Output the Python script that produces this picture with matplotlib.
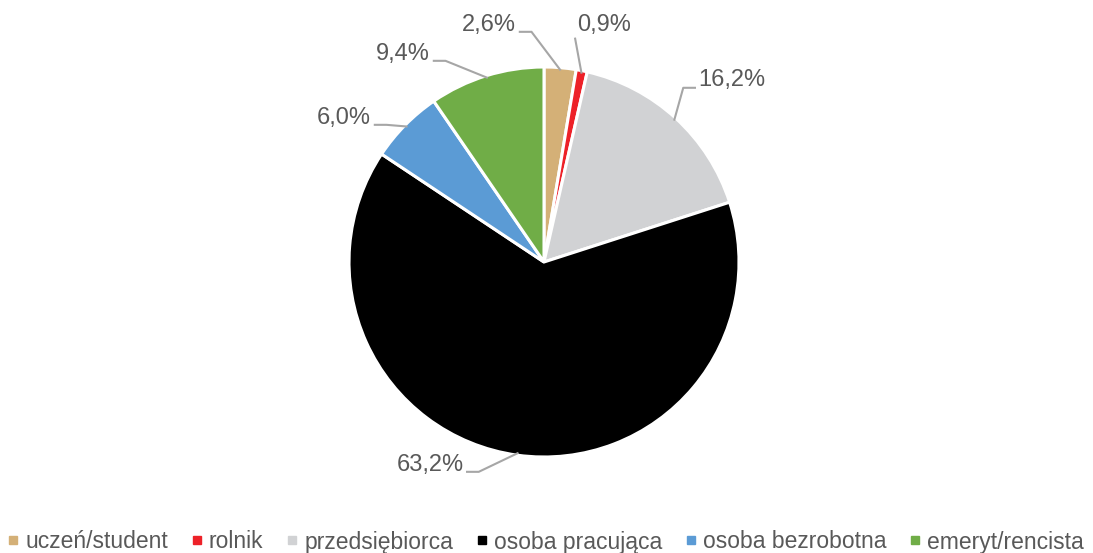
import matplotlib
matplotlib.use("Agg")
import matplotlib.pyplot as plt
from matplotlib.lines import Line2D
import numpy as np

categories = ["uczeń/student", "rolnik", "przedsiębiorca", "osoba pracująca",
              "osoba bezrobotna", "emeryt/rencista"]
values = [2.6, 0.9, 16.2, 63.2, 6.0, 9.4]
labels = ["2,6%", "0,9%", "16,2%", "63,2%", "6,0%", "9,4%"]
colors = ["#D4B077", "#ED2128", "#D1D2D4", "#000000", "#5B9BD5", "#70AD47"]

W, H = 1093, 553
CX, CY, R = 544, 262, 195

fig = plt.figure(figsize=(W / 100, H / 100), dpi=100)
ax = fig.add_axes([0, 0, 1, 1])

FONT = "Liberation Sans"
TXT = "#595959"
LINE = "#A6A6A6"

wedges, _ = ax.pie(values, colors=colors, startangle=90, counterclock=False,
                   radius=1.0, center=(0, 0),
                   wedgeprops=dict(edgecolor="white", linewidth=2.2))
ax.set_xlim((0 - CX) / R, (W - CX) / R)
ax.set_ylim(-(H - CY) / R, CY / R)
ax.set_aspect("equal")
ax.axis("off")

def px(x, y):
    return (x - CX) / R, (CY - y) / R

# label layout (pixel centre of text, side of horizontal leader stub)
layout = [
    ((489, 25), "right"),
    ((604, 25), None),
    ((732, 80), "left"),
    ((430, 465), "right"),
    ((344, 118), "right"),
    ((403, 54), "right"),
]

for w, lab, (pos, side) in zip(wedges, labels, layout):
    ang = np.deg2rad((w.theta1 + w.theta2) / 2)
    ex, ey = 0.99 * np.cos(ang), 0.99 * np.sin(ang)
    tx, ty = px(*pos)
    ax.text(tx, ty, lab, ha="center", va="center", fontsize=17,
            color=TXT, family=FONT)
    tw = len(lab) * 0.064
    if side == "right":
        x0 = tx + tw / 2 + 0.03
        y0 = ty - 0.035
        x1 = x0 + 0.06
        ax.plot([x0, x1, ex], [y0, y0, ey], color=LINE, lw=1.5,
                solid_joinstyle="miter")
    elif side == "left":
        x0 = tx - tw / 2 - 0.03
        y0 = ty - 0.04
        x1 = x0 - 0.06
        ax.plot([x0, x1, ex], [y0, y0, ey], color=LINE, lw=1.5)
    else:
        x0 = tx - tw / 2 - 0.02
        y0 = ty - 0.07
        ax.plot([x0, ex], [y0, ey], color=LINE, lw=1.5)

handles = [Line2D([], [], marker="s", linestyle="none", markersize=6,
                  markerfacecolor=c, markeredgecolor=c) for c in colors]
leg = fig.legend(handles, categories, loc="center", bbox_to_anchor=(0.5, 11 / H),
                 ncol=6, frameon=False, handlelength=0.35,
                 handletextpad=0.36, columnspacing=1.07, borderpad=0,
                 prop=dict(family=FONT, size=16.5))
for t in leg.get_texts():
    t.set_color(TXT)

fig.savefig("out.png", dpi=100)
